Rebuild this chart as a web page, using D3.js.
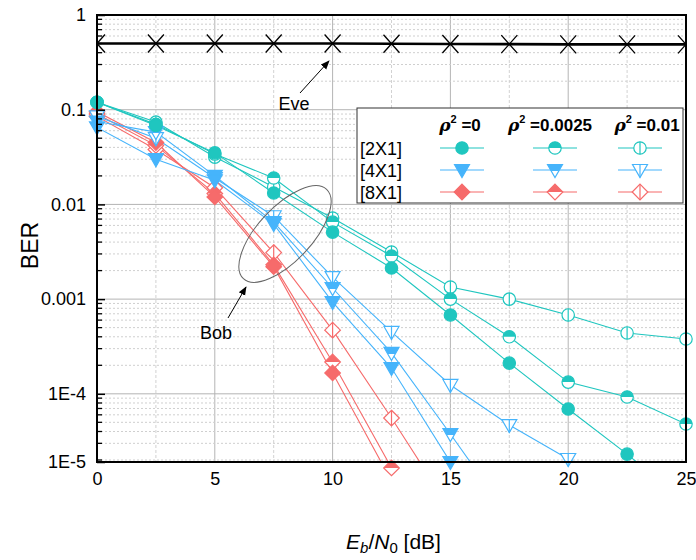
<!DOCTYPE html>
<html>
<head>
<meta charset="utf-8">
<script src="https://cdn.jsdelivr.net/npm/d3@7"></script>
<style>
  body { margin: 0; background: #fff; }
  text { font-family: Arial, "Liberation Sans", sans-serif; fill: #000; }
</style>
</head>
<body>
<svg id="chart" width="696" height="560"></svg>
<script>
// x values (Eb/N0 in dB)
const snr = [0, 2.5, 5, 7.5, 10, 12.5, 15, 17.5, 20, 22.5, 25];

// Eve
const berEve = [0.5, 0.5, 0.5, 0.5, 0.5, 0.497, 0.494, 0.492, 0.49, 0.49, 0.49];

// Bob [2X1]
const ber2x1Rho0 = [0.12, 0.068, 0.035, 0.0132, 0.0051, 0.00213, 0.00068, 0.000211, 0.0000691, 0.0000231, 0.000007];
const ber2x1Rho1 = [0.12, 0.07, 0.034, 0.019, 0.0065, 0.00285, 0.001, 0.0004, 0.000133, 0.0000925, 0.000048];
const ber2x1Rho2 = [0.12, 0.074, 0.0316, 0.0153, 0.00718, 0.00314, 0.00134, 0.001, 0.00068, 0.000439, 0.000379];

// Bob [4X1]
const ber4x1Rho0 = [0.065, 0.03, 0.018, 0.0062, 0.00093, 0.000187, 0.000019, 0.0000025];
const ber4x1Rho1 = [0.075, 0.058, 0.02, 0.0065, 0.00131, 0.00027, 0.0000376, 0.000005];
const ber4x1Rho2 = [0.085, 0.05, 0.019, 0.0075, 0.00171, 0.00045, 0.000124, 0.0000468, 0.0000205, 0.00001];

// Bob [8X1]
const ber8x1Rho0 = [0.095, 0.045, 0.012, 0.0022, 0.000166, 0.000012, 0.0000015];
const ber8x1Rho1 = [0.09, 0.042, 0.013, 0.0023, 0.000217, 0.0000165, 0.000002];
const ber8x1Rho2 = [0.085, 0.038, 0.015, 0.0031, 0.00047, 0.0000555, 0.000006];

const antennas = ["[2X1]", "[4X1]", "[8X1]"];
const rhoLabels = ["0", "0.0025", "0.01"];
const yTickLabels = ["1", "0.1", "0.01", "0.001", "1E-4", "1E-5"];

const colors = { "[2X1]": "#1fc6bf", "[4X1]": "#46b4fb", "[8X1]": "#f66b6b" };
const shapes = { "[2X1]": "circle", "[4X1]": "triangle", "[8X1]": "diamond" };
const fills = ["full", "half", "open"];

const series = [
  { ant: "[8X1]", rho: 2, values: ber8x1Rho2 },
  { ant: "[8X1]", rho: 1, values: ber8x1Rho1 },
  { ant: "[8X1]", rho: 0, values: ber8x1Rho0 },
  { ant: "[4X1]", rho: 2, values: ber4x1Rho2 },
  { ant: "[4X1]", rho: 1, values: ber4x1Rho1 },
  { ant: "[4X1]", rho: 0, values: ber4x1Rho0 },
  { ant: "[2X1]", rho: 2, values: ber2x1Rho2 },
  { ant: "[2X1]", rho: 1, values: ber2x1Rho1 },
  { ant: "[2X1]", rho: 0, values: ber2x1Rho0 },
];

const margin = { top: 15, right: 10, bottom: 98, left: 97 },
  width = 696 - margin.left - margin.right,
  height = 560 - margin.top - margin.bottom;

// the plotted decades are a bit taller than the frame, so the frame ends above 1E-5
const yBottom = Math.pow(10, -4.72);

const x = d3.scaleLinear().domain([0, 25]).range([0, width]);
const y = d3.scaleLog().domain([yBottom, 1]).range([height, 0]);

const svg = d3
  .select("#chart")
  .append("g")
  .attr("transform", "translate(" + margin.left + "," + margin.top + ")");

svg.append("defs")
  .append("clipPath")
  .attr("id", "plotClip")
  .append("rect")
  .attr("width", width)
  .attr("height", height);

// grid
const xMinor = d3.range(0, 25.01, 2.5);
svg.append("g")
  .selectAll("line")
  .data(xMinor.filter((d) => d > 0 && d < 25))
  .enter()
  .append("line")
  .attr("x1", (d) => x(d))
  .attr("x2", (d) => x(d))
  .attr("y1", 0)
  .attr("y2", height)
  .attr("stroke", (d) => (d % 5 === 0 ? "#b4b4b4" : "#d2d2d2"))
  .attr("stroke-width", 1)
  .attr("stroke-dasharray", (d) => (d % 5 === 0 ? null : "3,2"));

const decades = [1, 0.1, 0.01, 0.001, 0.0001];
const yMinor = [];
[0.1, 0.01, 0.001, 0.0001, 0.00001].forEach((d) => {
  for (let k = 2; k <= 9; k++) {
    if (d * k > yBottom) yMinor.push(d * k);
  }
});

svg.append("g")
  .selectAll("line")
  .data(yMinor)
  .enter()
  .append("line")
  .attr("x1", 0)
  .attr("x2", width)
  .attr("y1", (d) => y(d))
  .attr("y2", (d) => y(d))
  .attr("stroke", "#cfcfcf")
  .attr("stroke-width", 1)
  .attr("stroke-dasharray", "2,2");

svg.append("g")
  .selectAll("line")
  .data(decades.slice(1))
  .enter()
  .append("line")
  .attr("x1", 0)
  .attr("x2", width)
  .attr("y1", (d) => y(d))
  .attr("y2", (d) => y(d))
  .attr("stroke", "#b4b4b4")
  .attr("stroke-width", 1);

// marker drawing
function drawMarker(g, shape, fill, color) {
  let outline, top, vTop, vBot;
  if (shape === "circle") {
    const r = 6.2;
    outline = d3.path();
    outline.arc(0, 0, r, 0, 2 * Math.PI);
    top = d3.path();
    top.moveTo(-r, 0);
    top.arc(0, 0, r, Math.PI, 2 * Math.PI);
    top.closePath();
    vTop = -r;
    vBot = r;
  } else if (shape === "triangle") {
    outline = "M-7.5,-5.5L7.5,-5.5L0,7.5Z";
    top = "M-7.5,-5.5L7.5,-5.5L3.75,1L-3.75,1Z";
    vTop = -5.5;
    vBot = 7.5;
  } else {
    const s = 7.8;
    outline = `M0,${-s}L${s},0L0,${s}L${-s},0Z`;
    top = `M0,${-s}L${s},0L${-s},0Z`;
    vTop = -s;
    vBot = s;
  }
  g.append("path")
    .attr("d", outline.toString())
    .attr("fill", fill === "full" ? color : "#fff")
    .attr("stroke", color)
    .attr("stroke-width", 1.2);
  if (fill === "half") {
    g.append("path").attr("d", top.toString()).attr("fill", color);
  }
  if (fill === "open") {
    g.append("line")
      .attr("x1", 0)
      .attr("x2", 0)
      .attr("y1", vTop)
      .attr("y2", vBot)
      .attr("stroke", color)
      .attr("stroke-width", 1.2);
  }
}

const line = d3
  .line()
  .x((d, i) => x(snr[i]))
  .y((d) => y(d));

// Bob curves
const curves = svg.append("g");
series.forEach((s) => {
  curves.append("path")
    .attr("clip-path", "url(#plotClip)")
    .attr("d", line(s.values))
    .attr("fill", "none")
    .attr("stroke", colors[s.ant])
    .attr("stroke-width", 1.1);
});
series.forEach((s) => {
  s.values.forEach((v, i) => {
    if (y(v) > height + 18) return;
    const g = curves.append("g")
      .attr("transform", "translate(" + x(snr[i]) + "," + y(v) + ")");
    drawMarker(g, shapes[s.ant], fills[s.rho], colors[s.ant]);
  });
});

// Eve curve
svg.append("path")
  .attr("d", line(berEve))
  .attr("fill", "none")
  .attr("stroke", "#000")
  .attr("stroke-width", 2.6);

svg.append("g")
  .selectAll("path")
  .data(berEve)
  .enter()
  .append("path")
  .attr("transform", (d, i) => "translate(" + x(snr[i]) + "," + y(d) + ")")
  .attr("d", (d, i) => (i === 0 ? "M0,0L8,-9M0,0L8,9" : i === snr.length - 1 ? "M0,0L-8,-9M0,0L-8,9" : "M-8,-9L8,9M-8,9L8,-9"))
  .attr("fill", "none")
  .attr("stroke", "#000")
  .attr("stroke-width", 1.3);

// frame
svg.append("rect")
  .attr("width", width)
  .attr("height", height)
  .attr("fill", "none")
  .attr("stroke", "#000")
  .attr("stroke-width", 2);

// axes
const yAxis = d3
  .axisLeft(y)
  .tickValues(decades.concat([yBottom]))
  .tickFormat((d, i) => yTickLabels[i])
  .tickSize(-8)
  .tickPadding(11);
const yAxisG = svg.append("g").call(yAxis);
yAxisG.select(".domain").remove();
yAxisG.selectAll("line").attr("stroke", "#000").attr("stroke-width", 1.5);
yAxisG.selectAll("text").attr("font-size", 18);

// minor y ticks
svg.append("g")
  .selectAll("line")
  .data(yMinor)
  .enter()
  .append("line")
  .attr("x1", 0)
  .attr("x2", 5)
  .attr("y1", (d) => y(d))
  .attr("y2", (d) => y(d))
  .attr("stroke", "#000")
  .attr("stroke-width", 1.3);

const xAxis = d3.axisBottom(x).tickValues([0, 5, 10, 15, 20, 25]).tickSize(0).tickPadding(10);
const xAxisG = svg.append("g").attr("transform", "translate(0," + height + ")").call(xAxis);
xAxisG.select(".domain").remove();
xAxisG.selectAll("text").attr("font-size", 18);

// axis titles
svg.append("text")
  .attr("transform", "translate(" + (-margin.left + 38) + "," + (height / 2 + 7) + ") rotate(-90)")
  .attr("text-anchor", "middle")
  .attr("font-size", 23)
  .text("BER");

const xTitle = svg.append("text")
  .attr("x", width / 2 + 2)
  .attr("y", height + 87)
  .attr("text-anchor", "middle")
  .attr("font-size", 21);
xTitle.append("tspan").attr("font-style", "italic").text("E");
xTitle.append("tspan").attr("font-style", "italic").attr("font-size", 15).attr("dy", 4).text("b");
xTitle.append("tspan").attr("dy", -4).text("/");
xTitle.append("tspan").attr("font-style", "italic").text("N");
xTitle.append("tspan").attr("font-size", 15).attr("dy", 4).text("0");
xTitle.append("tspan").attr("dy", -4).text(" [dB]");

// annotations
const ann = d3.select("#chart").append("g");
ann.append("defs")
  .append("marker")
  .attr("id", "head")
  .attr("viewBox", "0 0 10 10")
  .attr("refX", 9)
  .attr("refY", 5)
  .attr("markerWidth", 9)
  .attr("markerHeight", 9)
  .attr("orient", "auto")
  .append("path")
  .attr("d", "M0,1L10,5L0,9Z")
  .attr("fill", "#000");

ann.append("text").attr("x", 294).attr("y", 110).attr("text-anchor", "middle").attr("font-size", 18).text("Eve");
ann.append("line")
  .attr("x1", 300).attr("y1", 93).attr("x2", 329).attr("y2", 61)
  .attr("stroke", "#000").attr("stroke-width", 1).attr("marker-end", "url(#head)");

ann.append("ellipse")
  .attr("transform", "translate(285,234) rotate(-47)")
  .attr("rx", 61).attr("ry", 27)
  .attr("fill", "none").attr("stroke", "#666").attr("stroke-width", 1);
ann.append("text").attr("x", 216).attr("y", 339).attr("text-anchor", "middle").attr("font-size", 18).text("Bob");
ann.append("line")
  .attr("x1", 228).attr("y1", 318).attr("x2", 246).attr("y2", 287)
  .attr("stroke", "#000").attr("stroke-width", 1).attr("marker-end", "url(#head)");

// legend
const legend = d3.select("#chart").append("g").attr("transform", "translate(357,108)");
legend.append("rect")
  .attr("width", 326).attr("height", 95)
  .attr("fill", "#fff").attr("stroke", "#333").attr("stroke-width", 1);

const colX = [105, 198, 283];
const headX = [103, 193, 290];
rhoLabels.forEach((r, j) => {
  const t = legend.append("text")
    .attr("x", headX[j]).attr("y", 23)
    .attr("text-anchor", "middle")
    .attr("font-size", 17)
    .attr("font-weight", "bold");
  t.append("tspan").attr("font-style", "italic").attr("font-family", "'DejaVu Serif', serif").text("ρ");
  t.append("tspan").attr("font-size", 11).attr("dy", -8).text("2");
  t.append("tspan").attr("dy", 8).text(" =" + r);
});

antennas.forEach((a, i) => {
  const yy = 40 + i * 22;
  legend.append("text").attr("x", 3).attr("y", yy + 7).attr("font-size", 18).text(a);
  fills.forEach((f, j) => {
    legend.append("line")
      .attr("x1", colX[j] - 22).attr("x2", colX[j] + 22)
      .attr("y1", yy).attr("y2", yy)
      .attr("stroke", colors[a]).attr("stroke-width", 1.1);
    const g = legend.append("g").attr("transform", "translate(" + colX[j] + "," + yy + ")");
    drawMarker(g, shapes[a], f, colors[a]);
  });
});
</script>
</body>
</html>
